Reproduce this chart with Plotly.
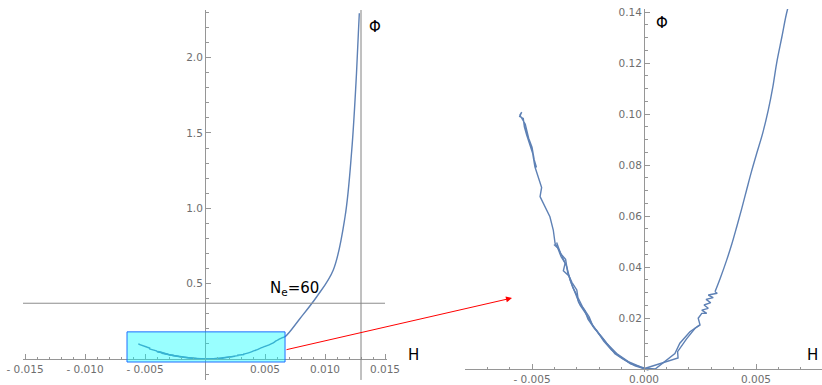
import plotly.graph_objects as go

# ---------------- data ----------------
# main trajectory: small upper-left double track, left branch down, right branch up (jittery part)
main_H = [-0.00480, -0.00490, -0.00500, -0.00515, -0.00530, -0.00554, -0.00546, -0.00555,
          -0.00539, -0.00534, -0.00524, -0.00509, -0.00497, -0.00487, -0.00472, -0.00457,
          -0.00464, -0.00442, -0.00420, -0.00405, -0.00397, -0.00375, -0.00360, -0.00345,
          -0.00330, -0.00308, -0.00286, -0.00256, -0.00234, -0.00204, -0.00167, -0.00122,
          -0.00070, -0.00018, 0.00000, 0.00010, 0.00152, 0.00150, 0.00190, 0.00228, 0.00250,
          0.00242, 0.00258, 0.00280, 0.00258, 0.00287, 0.00268, 0.00298, 0.00277, 0.00309,
          0.00287, 0.00327, 0.00317]
main_Phi = [0.0790, 0.0820, 0.0870, 0.0905, 0.0960, 0.0996, 0.1007, 0.0990,
            0.0983, 0.0950, 0.0918, 0.0878, 0.0846, 0.0793, 0.0748, 0.0712,
            0.0676, 0.0637, 0.0597, 0.0545, 0.0493, 0.0460, 0.0427, 0.0401,
            0.0349, 0.0297, 0.0251, 0.0212, 0.0179, 0.0140, 0.0101, 0.0061,
            0.0029, 0.0009, 0.0000, 0.0004, 0.0043, 0.0068, 0.0118, 0.0160, 0.0173,
            0.0199, 0.0218, 0.0218, 0.0231, 0.0238, 0.0251, 0.0260, 0.0273, 0.0280,
            0.0290, 0.0297, 0.0303]

# smooth upper part of the right branch
upper_H = [0.00317, 0.00340, 0.00369, 0.00392, 0.00414, 0.00436, 0.00458, 0.00480, 0.00503,
           0.00530, 0.00555, 0.00575, 0.00592, 0.00615, 0.00640, 0.00667, 0.00792, 0.00931,
           0.01069, 0.01167, 0.01223, 0.01258, 0.01278, 0.01286]
upper_Phi = [0.0303, 0.0355, 0.0427, 0.0490, 0.0558, 0.0628, 0.0702, 0.0775, 0.0845,
             0.0925, 0.1016, 0.1105, 0.1199, 0.1300, 0.1408, 0.1480, 0.2690, 0.4130,
             0.5910, 0.9440, 1.3870, 1.8290, 2.1610, 2.2940]

# second pass over the lower left branch
strandB_H = [-0.00402, -0.00385, -0.00370, -0.00352, -0.00360, -0.00335, -0.00318, -0.00300,
             -0.00292, -0.00265, -0.00250, -0.00222, -0.00190, -0.00160, -0.00130, -0.00095,
             -0.00040, 0.00020]
strandB_Phi = [0.0488, 0.0475, 0.0440, 0.0415, 0.0385, 0.0365, 0.0320, 0.0290,
               0.0262, 0.0230, 0.0195, 0.0160, 0.0128, 0.0092, 0.0060, 0.0040,
               0.0012, -0.0004]

# third pass: lower left branch and second track of the lower right branch
strandC_H = [-0.00390, -0.00372, -0.00350, -0.00340, -0.00322, -0.00300, -0.00295, -0.00275,
             -0.00245, -0.00228, -0.00210, -0.00180, -0.00145, -0.00110, -0.00060, 0.00005,
             0.00050, 0.00138, 0.00160, 0.00205, 0.00250]
strandC_Phi = [0.0496, 0.0452, 0.0430, 0.0375, 0.0340, 0.0310, 0.0280, 0.0245,
               0.0205, 0.0168, 0.0150, 0.0110, 0.0075, 0.0050, 0.0020, 0.0003,
               0.0000, 0.0061, 0.0101, 0.0146, 0.0173]

Ne_level = 0.37          # horizontal line N_e = 60
H_end = 0.013            # vertical line
box_H = [-0.0065, 0.00667]
box_Phi = [-0.02, 0.18]

left_xticks = [-0.015, -0.010, -0.005, 0.005, 0.010, 0.015]
left_xtext = ["- 0.015", "- 0.010", "- 0.005", "0.005", "0.010", "0.015"]
left_yticks = [0.5, 1.0, 1.5, 2.0]
left_ytext = ["0.5", "1.0", "1.5", "2.0"]
right_xticks = [-0.005, 0.0, 0.005]
right_xtext = ["- 0.005", "0.000", "0.005"]
right_yticks = [0.02, 0.04, 0.06, 0.08, 0.10, 0.12, 0.14]
right_ytext = ["0.02", "0.04", "0.06", "0.08", "0.10", "0.12", "0.14"]

# ---------------- figure ----------------
OFF = 0                      # body margin removed by the post script below
W, Hh = 822 - OFF, 385 - OFF
CURVE = "#5E81B5"
AX = "rgb(150,150,150)"
TXT = "rgb(110,110,110)"


def px(x):
    return (x - OFF) / W


def py(y):
    return 1 - (y - OFF) / Hh


fig = go.Figure()
strands = [(main_H, main_Phi, "linear"), (upper_H, upper_Phi, "spline"),
           (strandB_H, strandB_Phi, "linear"), (strandC_H, strandC_Phi, "linear")]
for xa, ya in [("x", "y"), ("x2", "y2")]:
    for hs, ps, shp in strands:
        fig.add_trace(go.Scatter(x=hs, y=ps, mode="lines", xaxis=xa, yaxis=ya,
                                 line=dict(color=CURVE, width=1.4, shape=shp),
                                 showlegend=False, hoverinfo="skip"))

tickfont = dict(family="DejaVu Sans", size=10.5, color=TXT)
common = dict(showgrid=False, zeroline=False, showline=True, linecolor=AX, linewidth=1,
              ticks="inside", ticklen=5, tickcolor=AX, tickwidth=1, tickmode="array",
              tickfont=tickfont, anchor="free", fixedrange=True, automargin=False,
              ticklabeloverflow="allow")

# left panel: 0.005 H = 60 px, origin at px (205, 359); 1 Phi = 150.7 px
fig.update_layout(
    xaxis=dict(common, domain=[px(23), px(387)],
               range=[(23 - 205) / 12000, (387 - 205) / 12000],
               position=py(359), tickvals=left_xticks, ticktext=left_xtext,
               minor=dict(tickmode="linear", tick0=0, dtick=0.001, ticks="inside",
                          ticklen=2.5, tickcolor=AX)),
    yaxis=dict(common, domain=[py(380), py(10)],
               range=[(359 - 380) / 150.7, (359 - 10) / 150.7],
               position=px(205), tickvals=left_yticks, ticktext=left_ytext,
               minor=dict(tickmode="linear", tick0=0, dtick=0.1, ticks="inside",
                          ticklen=2.5, tickcolor=AX)),
    # right panel: 0.005 H = 112 px, origin at px (644, 369); 0.02 Phi = 51 px
    xaxis2=dict(common, domain=[px(465), 1.0],
                range=[(465 - 644) / 22400, (822 - 644) / 22400],
                position=py(369), tickvals=right_xticks, ticktext=right_xtext,
                minor=dict(tickmode="linear", tick0=0, dtick=0.001, ticks="inside",
                           ticklen=2.5, tickcolor=AX)),
    yaxis2=dict(common, domain=[py(372), py(9)],
                range=[(369 - 372) / 2550, (369 - 9) / 2550],
                position=px(644), tickvals=right_yticks, ticktext=right_ytext,
                minor=dict(tickmode="linear", tick0=0, dtick=0.005, ticks="inside",
                           ticklen=2.5, tickcolor=AX)),
    width=W, height=Hh, autosize=False,
    margin=dict(l=0, r=0, t=0, b=0, autoexpand=False),
    paper_bgcolor="white", plot_bgcolor="rgba(0,0,0,0)",
    showlegend=False,
)

# reference lines and zoom box
fig.add_shape(type="line", xref="x", yref="y", x0=-0.0152, x1=0.0150, y0=Ne_level, y1=Ne_level,
              line=dict(color="rgb(140,140,140)", width=1))
fig.add_shape(type="line", xref="x", yref="y", x0=H_end, x1=H_end, y0=-0.139, y1=2.316,
              line=dict(color="rgb(130,130,130)", width=1))
fig.add_shape(type="rect", xref="x", yref="y", x0=box_H[0], x1=box_H[1], y0=box_Phi[0],
              y1=box_Phi[1], fillcolor="rgba(0,255,255,0.4)",
              line=dict(color="rgb(30,110,255)", width=1), layer="above")

# labels
lab = dict(family="DejaVu Sans", size=15, color="black")
for (lx, ly, t) in [(413, 355, "H"), (375, 27, "Φ"), (812, 355, "H"), (662, 23, "Φ")]:
    fig.add_annotation(xref="paper", yref="paper", x=px(lx), y=py(ly), text=t,
                       showarrow=False, font=lab, xanchor="center", yanchor="middle")
fig.add_annotation(xref="paper", yref="paper", x=px(268), y=py(288), text="N<sub>e</sub>=60",
                   showarrow=False, font=lab, xanchor="left", yanchor="middle")

# red arrow from the box to the zoomed panel
fig.add_annotation(xref="paper", yref="paper", x=px(512), y=py(298), ax=285 - 512, ay=350 - 298,
                   text="", showarrow=True, arrowhead=2, arrowsize=1.2, arrowwidth=1,
                   arrowcolor="red")

fig.write_html("out.html", config={"displayModeBar": False, "staticPlot": True},
               post_script="document.body.style.margin='0';document.body.style.overflow='hidden';")
